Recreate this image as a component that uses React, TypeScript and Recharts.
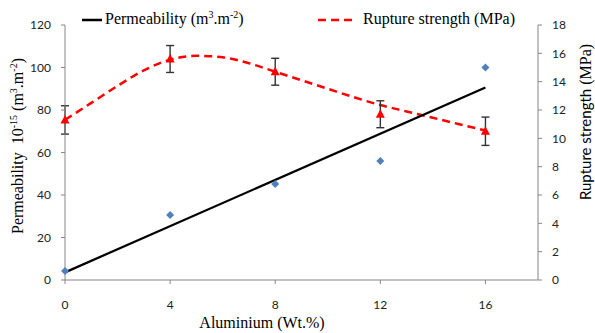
import React from "react";
import { ComposedChart, XAxis, YAxis, Line, Scatter, ErrorBar } from "recharts";

const xTicks = [0, 4, 8, 12, 16];
const leftTicks = [0, 20, 40, 60, 80, 100, 120];
const rightTicks = [0, 2, 4, 6, 8, 10, 12, 14, 16, 18];

const aluminium = [0, 4, 8, 12, 16];
const permeability = [4.2, 30.6, 45.2, 56, 100];
const rupture = [11.3, 15.6, 14.7, 11.7, 10.5];
const ruptureErr = [1.0, 0.95, 0.95, 0.95, 1.0];

const trendX = [0, 16];
const trendY = [3.6, 90.6];

const curveX = [0, 1, 2, 3, 4, 5, 6, 7, 8, 9, 10, 11, 12, 13, 14, 15, 16];
const curveY = [11.3, 12.5, 13.7, 14.8, 15.55, 15.83, 15.72, 15.3, 14.7, 14.1, 13.5, 12.9, 12.35, 11.9, 11.45, 11.0, 10.55];

const permData = aluminium.map((x, i) => ({ x, y: permeability[i] }));
const ruptData = aluminium.map((x, i) => ({ x, y: rupture[i], err: ruptureErr[i] }));
const trendData = trendX.map((x, i) => ({ x, y: trendY[i] }));
const curveData = curveX.map((x, i) => ({ x, y: curveY[i] }));

const AXIS = "#868686";
const tickStyle = { fontFamily: "Lato", fontSize: 12, fill: "#222" };

const Diamond = (p: any) => {
  const { cx, cy } = p;
  const r = 4;
  return <polygon points={`${cx},${cy - r} ${cx + r},${cy} ${cx},${cy + r} ${cx - r},${cy}`} fill="#4F81BD" />;
};

const Triangle = (p: any) => {
  const { cx, cy } = p;
  return <polygon points={`${cx},${cy - 5} ${cx + 4.5},${cy + 3.5} ${cx - 4.5},${cy + 3.5}`} fill="#FF0000" />;
};

export default function App() {
  return (
    <div style={{ position: "absolute", left: 0, top: 0, width: 595, height: 333, background: "#fff" }}>
      <ComposedChart width={595} height={333} margin={{ top: 25, right: 22, bottom: 23, left: 20 }}>
        <XAxis
          xAxisId="x"
          dataKey="x"
          type="number"
          domain={[0, 18]}
          ticks={xTicks}
          stroke={AXIS}
          tickSize={4}
          tickMargin={16}
          height={30}
          tick={tickStyle}
          allowDuplicatedCategory={false}
        />
        <YAxis
          yAxisId="left"
          orientation="left"
          type="number"
          domain={[0, 120]}
          ticks={leftTicks}
          stroke={AXIS}
          tickSize={4}
          tickMargin={10}
          width={45}
          tick={tickStyle}
        />
        <YAxis
          yAxisId="right"
          orientation="right"
          type="number"
          domain={[0, 18]}
          ticks={rightTicks}
          stroke={AXIS}
          tickSize={4}
          tickMargin={10}
          width={35}
          tick={tickStyle}
        />
        <Line
          xAxisId="x"
          yAxisId="right"
          data={curveData}
          dataKey="y"
          type="monotone"
          stroke="#FF0000"
          strokeWidth={2.5}
          strokeDasharray="8 5"
          dot={false}
          activeDot={false}
          isAnimationActive={false}
        />
        <Line
          xAxisId="x"
          yAxisId="left"
          data={trendData}
          dataKey="y"
          type="linear"
          stroke="#000"
          strokeWidth={2.25}
          dot={false}
          activeDot={false}
          isAnimationActive={false}
        />
        <Scatter
          xAxisId="x"
          yAxisId="left"
          data={permData}
          dataKey="y"
          shape={Diamond}
          isAnimationActive={false}
        />
        <Scatter
          xAxisId="x"
          yAxisId="right"
          data={ruptData}
          dataKey="y"
          shape={Triangle}
          isAnimationActive={false}
        >
          <ErrorBar dataKey="err" direction="y" width={4} stroke="#333" strokeWidth={1.4} />
        </Scatter>
      </ComposedChart>
      <svg
        width={595}
        height={333}
        style={{ position: "absolute", left: 0, top: 0, pointerEvents: "none" }}
        fontFamily="'Liberation Serif', 'Times New Roman', serif"
      >
        {/* Legend */}
        <line x1={82} y1={20} x2={102} y2={20} stroke="#000" strokeWidth={2.5} />
        <text x={105} y={24} fontSize={16} fill="#000">
          Permeability (m<tspan fontSize={10} dy={-6}>3</tspan>
          <tspan dy={6}>.m</tspan>
          <tspan fontSize={10} dy={-6}>-2</tspan>
          <tspan dy={6}>)</tspan>
        </text>
        <line x1={318} y1={20} x2={352} y2={20} stroke="#FF0000" strokeWidth={2.5} strokeDasharray="8 5" />
        <text x={363} y={24} fontSize={16} fill="#000">Rupture strength (MPa)</text>

        {/* Left axis title */}
        <g transform="translate(23,146) rotate(-90)">
          <text x={0} y={0} fontSize={16} fill="#000" textAnchor="middle">
            Permeability<tspan dx={8}>10</tspan>
            <tspan fontSize={10} dy={-6}>-15</tspan>
            <tspan dy={6}> (m</tspan>
            <tspan fontSize={10} dy={-6}>3</tspan>
            <tspan dy={6}>.m</tspan>
            <tspan fontSize={10} dy={-6}>-2</tspan>
            <tspan dy={6}>)</tspan>
          </text>
        </g>

        {/* Right axis title */}
        <g transform="translate(591,122) rotate(-90)">
          <text x={0} y={0} fontSize={16} fill="#000" textAnchor="middle">
            <tspan fontFamily="Lato" fontSize={15}>Rupture strength</tspan>
            <tspan> (MPa)</tspan>
          </text>
        </g>

        {/* X axis title */}
        <text x={262} y={328} fontSize={16} fill="#000" textAnchor="middle">Aluminium (Wt.%)</text>
      </svg>
    </div>
  );
}
